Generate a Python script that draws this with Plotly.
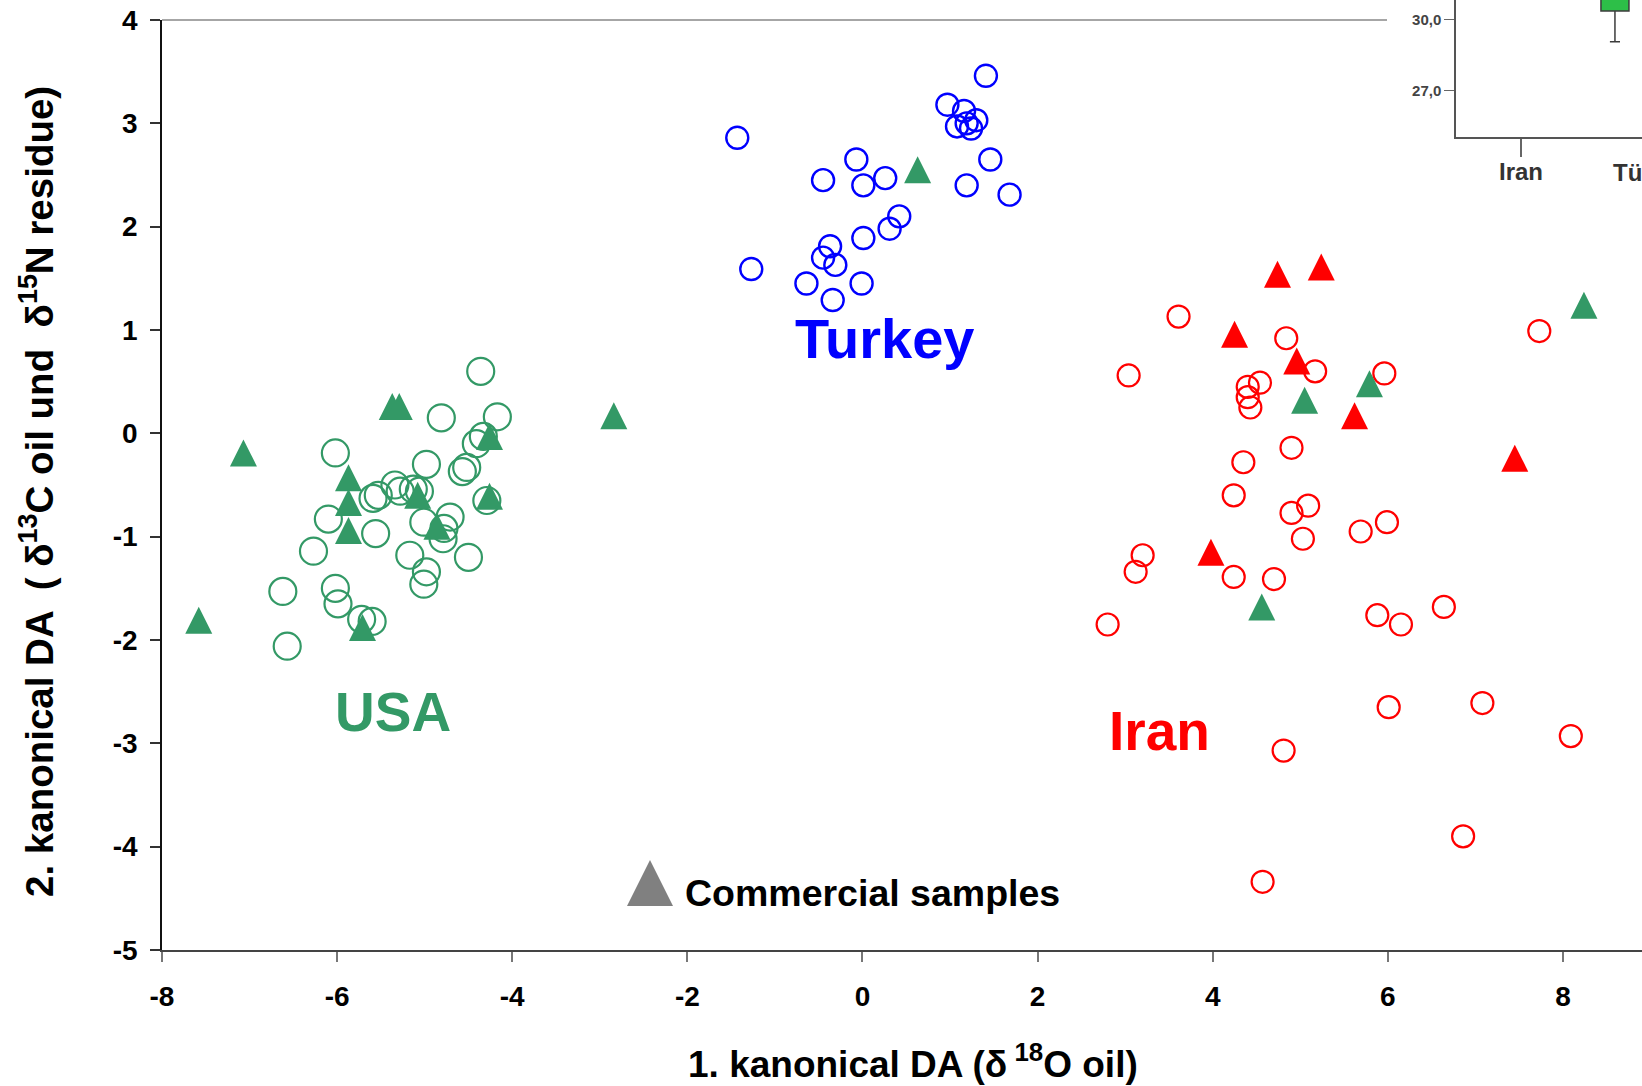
import plotly.graph_objects as go

FONT = "Liberation Sans, Arial, sans-serif"
GREEN = "#339966"
BLUE = "#0000ff"
RED = "#ff0000"

# Authentic samples: scores on the 1st and 2nd canonical discriminant function
usa_x = [-4.36, -4.81, -4.17, -4.33, -4.41, -6.02, -4.98, -4.52, -4.57, -5.34, -5.28,
         -5.53, -5.59, -5.13, -5.06, -4.29, -6.10, -5.01, -4.71, -4.78, -4.79, -5.56,
         -6.27, -5.17, -4.50, -4.98, -5.01, -6.62, -6.02, -5.99, -5.72, -5.60, -6.57]
usa_y = [0.60, 0.15, 0.16, -0.03, -0.10, -0.19, -0.30, -0.33, -0.37, -0.50, -0.56,
         -0.60, -0.63, -0.54, -0.56, -0.65, -0.83, -0.86, -0.81, -0.92, -1.02, -0.97,
         -1.14, -1.18, -1.20, -1.34, -1.46, -1.53, -1.50, -1.65, -1.80, -1.82, -2.06]

turkey_x = [1.41, 0.97, 1.16, 1.30, 1.08, 1.19, 1.24, -1.43, -0.07, 1.46, -0.45, 0.01, 0.26,
            1.19, 1.68, 0.42, 0.31, 0.01, -0.37, -0.45, -0.31, -1.27, -0.64, -0.01, -0.34]
turkey_y = [3.46, 3.18, 3.12, 3.03, 2.97, 3.00, 2.95, 2.86, 2.65, 2.65, 2.45, 2.40, 2.47,
            2.40, 2.31, 2.10, 1.98, 1.89, 1.81, 1.70, 1.63, 1.59, 1.45, 1.45, 1.29]

iran_x = [3.61, 3.04, 7.73, 4.84, 5.17, 5.96, 4.54, 4.40, 4.40, 4.43, 4.90, 4.35, 4.24, 5.09,
          4.90, 5.03, 5.69, 5.99, 3.20, 3.12, 4.24, 4.70, 2.80, 5.88, 6.15, 6.64, 6.01, 7.08,
          8.09, 4.81, 6.86, 4.57]
iran_y = [1.13, 0.56, 0.99, 0.92, 0.60, 0.58, 0.49, 0.45, 0.35, 0.25, -0.14, -0.28, -0.60, -0.70,
          -0.77, -1.02, -0.95, -0.86, -1.18, -1.34, -1.39, -1.41, -1.85, -1.76, -1.85, -1.68,
          -2.65, -2.61, -2.93, -3.07, -3.90, -4.34]

# Commercial samples, coloured by the group they were assigned to
commercial_usa_x = [-7.07, -7.58, -5.37, -5.29, -5.87, -5.87, -5.87, -5.08, -4.86, -4.26,
                    -4.26, -5.71, -2.84, 0.63, 8.24, 5.79, 5.05, 4.56]
commercial_usa_y = [-0.19, -1.81, 0.26, 0.26, -0.43, -0.67, -0.94, -0.60, -0.90, -0.03,
                    -0.61, -1.88, 0.17, 2.55, 1.24, 0.48, 0.32, -1.68]
commercial_iran_x = [4.74, 5.24, 4.25, 4.96, 5.62, 7.45, 3.98]
commercial_iran_y = [1.54, 1.61, 0.96, 0.70, 0.17, -0.24, -1.15]

# Axis ticks
x_ticks = [-8, -6, -4, -2, 0, 2, 4, 6, 8]
y_ticks = [-5, -4, -3, -2, -1, 0, 1, 2, 3, 4]

# Clustered box plot panel in the upper right corner
inset_categories = ["Iran", "Türkei"]
inset_ticks = [27.0, 30.0]
inset_ticktext = ["27,0", "30,0"]
turkei_q1 = 30.35
turkei_median = 31.2
turkei_q3 = 31.9
turkei_lower = 29.05
turkei_upper = 32.6

# ---- geometry ----
W, H = 1642, 1086
M_L, M_B, M_T, M_R = 162, 136, 0, 0
plot_w = W - M_L - M_R
plot_h = H - M_B - M_T
top_px = 20                                  # main frame starts 20 px below the top
y_dom_top = (plot_h - top_px) / plot_h
x_range = [-8, 8.903]
y_range = [-5, 4]
px_per_y = plot_h * y_dom_top / (y_range[1] - y_range[0])


def px_x(p):
    return (p - M_L) / plot_w


def px_y(p):
    return (plot_h - p) / plot_h


TRI = 27                                     # triangle size in px
tri_shift = (TRI / 2) / px_per_y             # centre the apex-anchored triangle on its point

# box-plot panel: category spacing and the offset of the first box in a cluster
INSET_LEFT, INSET_BOTTOM = 1456, 137
CAT0_PX, CAT_STEP = 1521, 128
cluster_offset = -0.266
inset_x_range = [(INSET_LEFT - CAT0_PX) / CAT_STEP, (W - CAT0_PX) / CAT_STEP]

fig = go.Figure()

fig.add_trace(go.Scatter(x=usa_x, y=usa_y, mode="markers", name="USA",
                         marker=dict(symbol="circle-open", size=27, color=GREEN,
                                     line=dict(width=2.2, color=GREEN))))
fig.add_trace(go.Scatter(x=turkey_x, y=turkey_y, mode="markers", name="Turkey",
                         marker=dict(symbol="circle-open", size=22, color=BLUE,
                                     line=dict(width=2.4, color=BLUE))))
fig.add_trace(go.Scatter(x=iran_x, y=iran_y, mode="markers", name="Iran",
                         marker=dict(symbol="circle-open", size=22, color=RED,
                                     line=dict(width=2.2, color=RED))))
fig.add_trace(go.Scatter(x=commercial_usa_x, y=commercial_usa_y, mode="markers",
                         yaxis="y3", name="Commercial (USA)",
                         marker=dict(symbol="arrow-up", size=TRI, color=GREEN,
                                     line=dict(width=0))))
fig.add_trace(go.Scatter(x=commercial_iran_x, y=commercial_iran_y, mode="markers",
                         yaxis="y3", name="Commercial (Iran)",
                         marker=dict(symbol="arrow-up", size=TRI, color=RED,
                                     line=dict(width=0))))

fig.add_trace(go.Box(x=[1 + cluster_offset], q1=[turkei_q1], median=[turkei_median],
                     q3=[turkei_q3], lowerfence=[turkei_lower], upperfence=[turkei_upper],
                     xaxis="x2", yaxis="y2", width=28 / CAT_STEP, whiskerwidth=0.36,
                     fillcolor="#2dbf48", line=dict(color="#3c3c3c", width=1.5),
                     boxpoints=False, showlegend=False))

tick_font = dict(family=FONT, size=28, color="black", weight="bold")

fig.update_layout(
    width=W, height=H,
    margin=dict(l=M_L, r=M_R, t=M_T, b=M_B, pad=0, autoexpand=False),
    paper_bgcolor="white", plot_bgcolor="white",
    showlegend=False,
    xaxis=dict(range=x_range, domain=[0, 1], anchor="y", automargin=False,
               tickvals=x_ticks, ticktext=[str(v) for v in x_ticks],
               ticks="outside", ticklen=10, tickwidth=1.5, tickcolor="#777",
               showline=True, linecolor="#444", linewidth=1.5, mirror=False,
               showgrid=False, zeroline=False, tickfont=tick_font,
               ticklabelstandoff=11),
    yaxis=dict(range=y_range, domain=[0, y_dom_top], anchor="x", automargin=False,
               tickvals=y_ticks, ticktext=[str(v) for v in y_ticks],
               ticks="outside", ticklen=10, tickwidth=1.5, tickcolor="#333",
               showline=True, linecolor="#111", linewidth=1.5,
               showgrid=False, zeroline=False, tickfont=tick_font,
               ticklabelstandoff=7),
    yaxis3=dict(range=[y_range[0] - tri_shift, y_range[1] - tri_shift],
                overlaying="y", visible=False, automargin=False),
    xaxis2=dict(domain=[px_x(INSET_LEFT), 1], anchor="y2", range=inset_x_range,
                automargin=False, tickvals=[0], ticktext=inset_categories[:1],
                ticks="outside", ticklen=18, tickwidth=1.5, tickcolor="#666",
                showline=True, linecolor="#555", linewidth=1.5,
                showgrid=False, zeroline=False, ticklabeloverflow="allow",
                ticklabelstandoff=-6,
                tickfont=dict(family=FONT, size=24, color="#333", weight="bold")),
    yaxis2=dict(domain=[px_y(INSET_BOTTOM), 1], anchor="x2", range=[25.05, 30.81],
                automargin=False, tickvals=inset_ticks, ticktext=inset_ticktext,
                ticks="outside", ticklen=10, tickwidth=1, tickcolor="#666",
                showline=True, linecolor="#555", linewidth=1.5,
                showgrid=False, zeroline=False,
                tickfont=dict(family=FONT, size=15, color="#444", weight="bold")),
)

# second category label of the box-plot panel, running past the right edge
fig.add_annotation(text=inset_categories[1], xref="paper", yref="paper",
                   x=px_x(CAT0_PX + CAT_STEP), y=px_y(172), xanchor="center",
                   yanchor="middle", showarrow=False,
                   font=dict(family=FONT, size=24, color="#333", weight="bold"))

# top frame line of the main plot (ends where the box-plot panel begins)
fig.add_shape(type="line", xref="paper", yref="paper",
              x0=0, x1=px_x(1387), y0=y_dom_top, y1=y_dom_top,
              line=dict(color="#888", width=1.5))

# legend key for commercial samples
fig.add_shape(type="path", xref="paper", yref="paper",
              xsizemode="pixel", ysizemode="pixel",
              xanchor=px_x(650), yanchor=px_y(883),
              path="M -23,-23 L 23,-23 L 0,23 Z",
              fillcolor="#808080", line=dict(width=0))
fig.add_annotation(text="Commercial samples", xref="paper", yref="paper",
                   x=px_x(683), y=px_y(893), xanchor="left", yanchor="middle",
                   showarrow=False,
                   font=dict(family=FONT, size=37.5, color="black", weight="bold"))

# group labels
label_font = dict(family=FONT, size=55, weight="bold")
fig.add_annotation(text="Turkey", x=0.25, y=0.92, showarrow=False,
                   font=dict(label_font, size=56, color=BLUE))
fig.add_annotation(text="USA", x=-5.36, y=-2.70, showarrow=False,
                   font=dict(label_font, color=GREEN))
fig.add_annotation(text="Iran", x=3.39, y=-2.88, showarrow=False,
                   font=dict(label_font, color=RED))

# axis titles
fig.add_annotation(text="1. kanonical DA (δ<sup> 18</sup>O oil)",
                   xref="paper", yref="paper", x=px_x(913), y=px_y(1061),
                   xanchor="center", yanchor="middle", showarrow=False,
                   font=dict(family=FONT, size=37, color="black", weight="bold"))
fig.add_annotation(text="2. kanonical DA  ( δ<sup>13</sup>C oil und  δ<sup>15</sup>N residue)",
                   xref="paper", yref="paper", x=px_x(37), y=px_y(492),
                   xanchor="center", yanchor="middle", textangle=-90, showarrow=False,
                   font=dict(family=FONT, size=38.5, color="black", weight="bold"))

fig.write_html("out.html")
